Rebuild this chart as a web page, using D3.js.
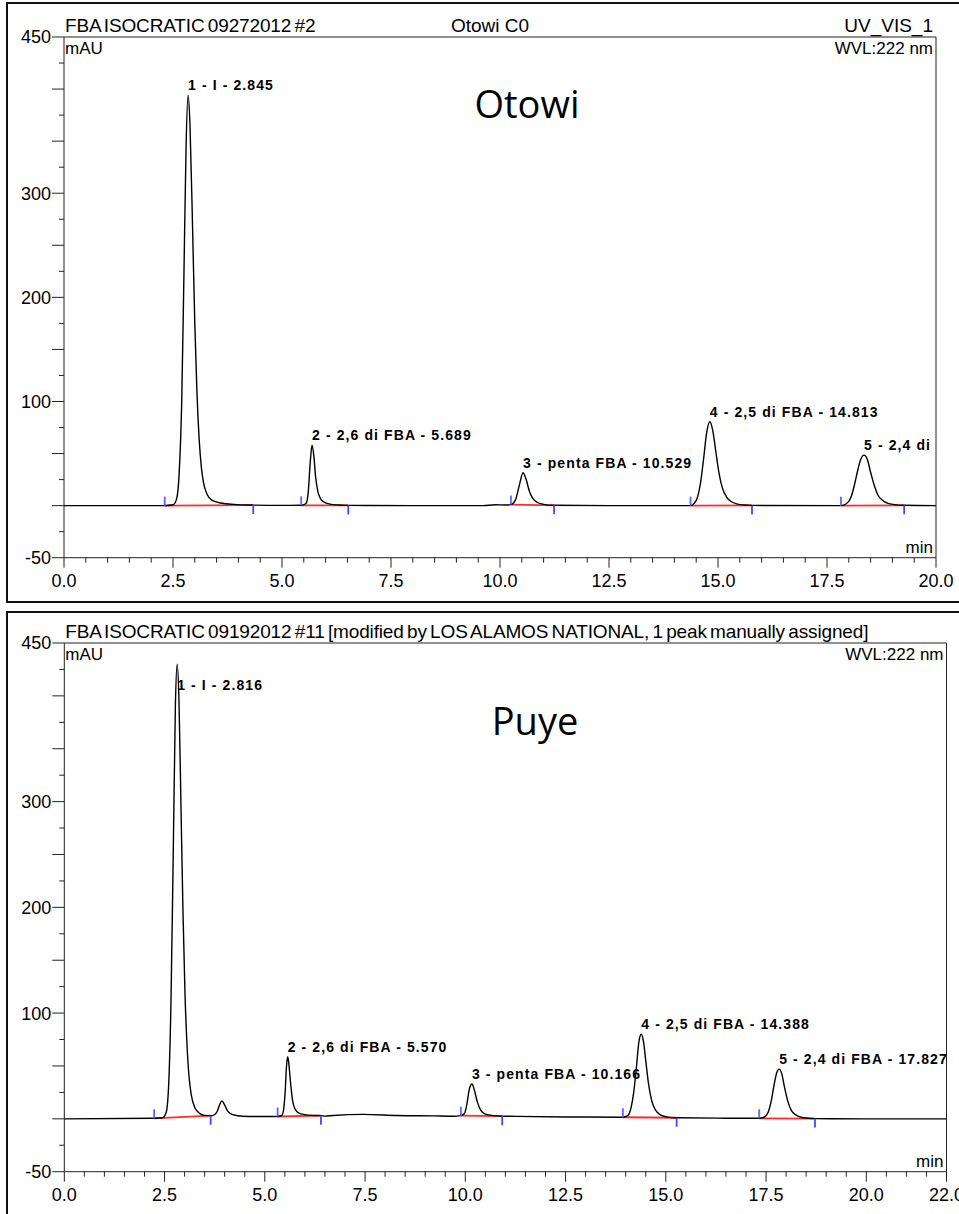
<!DOCTYPE html>
<html><head><meta charset="utf-8">
<script src="https://cdn.jsdelivr.net/npm/d3@7"></script>
<style>
body{margin:0;background:#fff;}
svg{display:block;}
text{font-family:"Liberation Sans",Arial,sans-serif;fill:#000;}
</style>
</head><body>
<svg id="c" width="959" height="1214"></svg>
<script>
// ---------------- DATA ----------------
// Panel 1 (Otowi)
const topTitle = "FBA ISOCRATIC 09272012 #2";
const topCenterTitle = "Otowi C0";
const topChannel = "UV_VIS_1";
const topWavelength = "WVL:222 nm";
const topSample = "Otowi";
const topTime = [0,2.3,2.5,2.58,2.64,2.7,2.75,2.8,2.845,2.89,2.95,3.0,3.05,3.1,3.15,3.2,3.28,3.4,3.6,3.9,4.35,5.0,5.44,5.55,5.6,5.645,5.689,5.73,5.77,5.82,5.88,5.96,6.1,6.3,6.52,8,9.6,9.9,10.1,10.25,10.35,10.44,10.529,10.6,10.68,10.76,10.86,11.0,11.24,12.5,14.37,14.45,14.53,14.6,14.67,14.74,14.813,14.88,14.95,15.02,15.1,15.2,15.3,15.45,15.6,15.78,17.82,17.95,18.05,18.13,18.2,18.27,18.35,18.42,18.5,18.58,18.67,18.78,18.9,19.05,19.27,20];
const topSignal = [0,0,0.8,6,30,100,220,345,394,365,265,175,108,64,37,22,11,5,2.5,1.2,0.5,0.2,0.3,2,12,40,58,48,28,14,7,3.5,1.5,0.6,0.2,0,0,0.8,0.6,1,5,19,31.6,25,13,6.5,3,1.2,0.3,0,0,2,8,22,45,70,80.5,72,52,32,17,8,4,1.5,0.6,0.2,0,2,8,20,33,44,48.5,45,32,20,10,5,2.2,1,0.3,0];
const topPeakRT = [2.845,5.689,10.529,14.813,18.35];
const topPeakHeight = [394,58,31.6,80.5,48.5];
const topPeakLabels = ["1 - I - 2.845","2 - 2,6 di FBA - 5.689","3 - penta FBA - 10.529","4 - 2,5 di FBA - 14.813","5 - 2,4 di"];
const topIntStart = [2.31,5.44,10.25,14.37,17.82];
const topIntEnd = [4.34,6.52,11.24,15.78,19.27];
const topXTickLabels = ["0.0","2.5","5.0","7.5","10.0","12.5","15.0","17.5","20.0"];
const topYTickLabels = ["450","300","200","100","-50"];

// Panel 2 (Puye)
const botTitle = "FBA ISOCRATIC 09192012 #11 [modified by LOS ALAMOS NATIONAL, 1 peak manually assigned]";
const botWavelength = "WVL:222 nm";
const botSample = "Puye";
const botTime = [0,2.24,2.45,2.54,2.6,2.66,2.72,2.77,2.816,2.86,2.91,2.96,3.01,3.06,3.11,3.17,3.25,3.38,3.55,3.7,3.8,3.87,3.93,4.0,4.08,4.2,4.45,5.0,5.32,5.42,5.47,5.51,5.54,5.57,5.6,5.64,5.69,5.75,5.85,6.0,6.2,6.4,6.5,6.7,7.45,8.3,9.2,9.7,9.89,9.98,10.04,10.1,10.166,10.22,10.3,10.38,10.5,10.7,10.92,11.1,12.5,13.93,14.05,14.13,14.2,14.27,14.33,14.388,14.44,14.5,14.57,14.65,14.75,14.88,15.05,15.27,16.5,17.33,17.45,17.55,17.63,17.7,17.77,17.827,17.89,17.96,18.04,18.13,18.25,18.4,18.72,20,22];
const botSignal = [0,0.5,1,6,30,110,260,390,430,395,295,195,118,70,40,22,11,5,3,3,6,13,17,13,7,4,2.5,2.2,2.2,3,9,27,49,58.8,52,35,18,9.5,5.5,4,3.2,3,2.6,3.2,4.2,3.2,2.8,2.5,3,5,14,28,33,28,16,8.5,4.5,3,2.5,2.4,1.8,1.5,3,10,25,50,73,80,74,55,33,17,8,3.5,1.6,1,0.6,0.5,1.5,6,17,32,44,47,43,30,17,8,3.5,1.2,0.2,0,0];
const botPeakRT = [2.816,5.570,10.166,14.388,17.827];
const botPeakHeight = [430,58.8,33,80,47];
const botPeakLabels = ["1 - I - 2.816","2 - 2,6 di FBA - 5.570","3 - penta FBA - 10.166","4 - 2,5 di FBA - 14.388","5 - 2,4 di FBA - 17.827"];
const botIntStart = [2.24,5.32,9.89,13.93,17.33];
const botIntEnd = [3.65,6.40,10.92,15.27,18.72];
const botXTickLabels = ["0.0","2.5","5.0","7.5","10.0","12.5","15.0","17.5","20.0","22.0"];
const botYTickLabels = ["450","300","200","100","-50"];

// ---------------- DRAW ----------------
const svg = d3.select("#c");

const panels = [
  {box:[7,3,1000,599], L:64, R:936, T:37, B:557.7, xMax:20,
   title:topTitle, center:topCenterTitle, channel:topChannel, wvl:topWavelength, sample:topSample,
   sampleX:527, sampleY:118,
   time:topTime, sig:topSignal, rt:topPeakRT, h:topPeakHeight, labels:topPeakLabels,
   s:topIntStart, e:topIntEnd, xt:topXTickLabels, yt:topYTickLabels},
  {box:[7,612,1000,620], L:64.3, R:946.5, T:643, B:1171.7, xMax:22,
   title:botTitle, center:null, channel:null, wvl:botWavelength, sample:botSample,
   sampleX:535, sampleY:735,
   time:botTime, sig:botSignal, rt:botPeakRT, h:botPeakHeight, labels:botPeakLabels,
   s:botIntStart, e:botIntEnd, xt:botXTickLabels, yt:botYTickLabels}
];

panels.forEach((p, pi) => {
  const g = svg.append("g");
  g.append("rect").attr("x",p.box[0]).attr("y",p.box[1]).attr("width",p.box[2]).attr("height",p.box[3])
    .attr("fill","none").attr("stroke","#111").attr("stroke-width",2);

  const x = d3.scaleLinear().domain([0,p.xMax]).range([p.L,p.R]);
  const y = d3.scaleLinear().domain([-50,450]).range([p.B,p.T]);

  g.append("path").attr("d",`M${p.L},${p.T}H${p.R}V${p.B}`).attr("fill","none").attr("stroke","#222").attr("stroke-width",1);

  const yMinor = d3.range(-50,451,25);
  const yAxis = g.append("g");
  yAxis.append("line").attr("x1",p.L).attr("x2",p.L).attr("y1",p.T).attr("y2",p.B).attr("stroke","#222");
  yAxis.selectAll("line.t").data(yMinor).join("line").attr("class","t")
    .attr("x1",d=> d%50===0 ? p.L-12 : p.L-5).attr("x2",p.L)
    .attr("y1",d=>y(d)).attr("y2",d=>y(d)).attr("stroke","#222");
  yAxis.selectAll("text").data(p.yt).join("text")
    .attr("x",p.L-13).attr("y",d=>y(+d)).attr("dy","0.36em")
    .attr("text-anchor","end").attr("font-size",18).text(d=>d);

  const xMinor = d3.range(0,p.xMax+0.001,0.5);
  const xAxis = g.append("g");
  xAxis.append("line").attr("x1",p.L).attr("x2",p.R).attr("y1",p.B).attr("y2",p.B).attr("stroke","#222");
  xAxis.selectAll("line.t").data(xMinor).join("line").attr("class","t")
    .attr("x1",d=>x(d)).attr("x2",d=>x(d)).attr("y1",p.B)
    .attr("y2",d=> (Math.abs(d/2.5-Math.round(d/2.5))<1e-6 || d===p.xMax) ? p.B+10 : p.B+5)
    .attr("stroke","#222");
  xAxis.selectAll("text").data(p.xt).join("text")
    .attr("x",d=>x(+d)).attr("y",p.B+29).attr("text-anchor","middle").attr("font-size",18).text(d=>d);

  g.append("text").attr("x",p.L+1).attr("y",p.T-5).attr("font-size",19)
    .attr("word-spacing","-1.8px").attr("letter-spacing","-0.15px").text(p.title);
  if (p.center) g.append("text").attr("x",490).attr("y",p.T-5).attr("text-anchor","middle").attr("font-size",19).text(p.center);
  if (p.channel) g.append("text").attr("x",p.R-3).attr("y",p.T-5).attr("text-anchor","end").attr("font-size",19).text(p.channel);
  g.append("text").attr("x",p.L+1).attr("y",p.T+17).attr("font-size",17).text("mAU");
  g.append("text").attr("x",p.R-3).attr("y",p.T+17).attr("text-anchor","end").attr("font-size",17).text(p.wvl);
  g.append("text").attr("x",p.R-3).attr("y",p.B-5).attr("text-anchor","end").attr("font-size",17).text("min");

  g.append("text").attr("x",p.sampleX).attr("y",p.sampleY).attr("text-anchor","middle")
    .attr("font-size",38).style("font-family","'Open Sans','Noto Sans',sans-serif").text(p.sample);

  const cid = "clip"+pi;
  svg.append("clipPath").attr("id",cid).append("rect").attr("x",p.L).attr("y",p.T).attr("width",p.R-p.L).attr("height",p.B-p.T);
  const pg = g.append("g").attr("clip-path",`url(#${cid})`);

  const valAt = t => {
    const i = d3.bisectLeft(p.time,t);
    if (i<=0) return p.sig[0];
    if (i>=p.time.length) return p.sig[p.sig.length-1];
    const t0=p.time[i-1], t1=p.time[i];
    return p.sig[i-1] + (p.sig[i]-p.sig[i-1])*(t-t0)/(t1-t0);
  };

  pg.selectAll("line.rb").data(p.s).join("line").attr("class","rb")
    .attr("x1",(d)=>x(d)).attr("y1",d=>y(valAt(d)))
    .attr("x2",(d,i)=>x(p.e[i])).attr("y2",(d,i)=>y(valAt(p.e[i])))
    .attr("stroke","#ff2a2a").attr("stroke-width",1.8);

  const line = d3.line().x((d,i)=>x(p.time[i])).y(d=>y(d)).curve(d3.curveMonotoneX);
  pg.append("path").datum(p.sig).attr("d",line).attr("fill","none").attr("stroke","#000").attr("stroke-width",1.4);

  pg.selectAll("line.bs").data(p.s).join("line").attr("class","bs")
    .attr("x1",d=>x(d)).attr("x2",d=>x(d)).attr("y1",d=>y(valAt(d))).attr("y2",d=>y(valAt(d))-9)
    .attr("stroke","#5a66ff").attr("stroke-width",1.8);
  pg.selectAll("line.be").data(p.e).join("line").attr("class","be")
    .attr("x1",d=>x(d)).attr("x2",d=>x(d)).attr("y1",d=>y(valAt(d))).attr("y2",d=>y(valAt(d))+9)
    .attr("stroke","#3a4cff").attr("stroke-width",1.8);

  pg.selectAll("text.pl").data(p.labels).join("text").attr("class","pl")
    .attr("x",(d,i)=>x(p.rt[i])).attr("y",(d,i)=>Math.max(y(p.h[i])-5, p.T+47))
    .attr("font-size",14).attr("font-weight","bold").attr("letter-spacing","1.1px").text(d=>d);
});
</script>
</body></html>
